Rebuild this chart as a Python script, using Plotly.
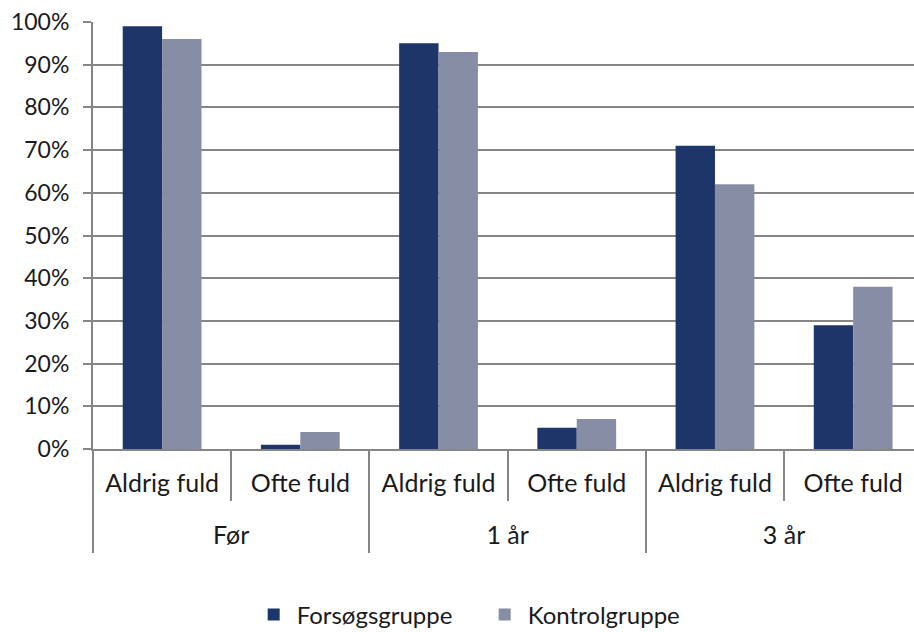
import plotly.graph_objects as go

# data
PERIODS = ["Før", "1 år", "3 år"]
ANSWERS = ["Aldrig fuld", "Ofte fuld"] * 3
FORSOEG = [99, 1, 95, 5, 71, 29]
KONTROL = [96, 4, 93, 7, 62, 38]
Y_TICKS = [0, 10, 20, 30, 40, 50, 60, 70, 80, 90, 100]

DARK = "#1D3568"
LIGHT = "#888DA6"
GRID = "#868686"
FONT = "Lato"

xpos = list(range(len(ANSWERS)))
period_pos = [i * 2 + 0.5 for i in range(len(PERIODS))]

fig = go.Figure()
fig.add_trace(go.Bar(x=xpos, y=FORSOEG, name="Forsøgsgruppe",
                     marker=dict(color=DARK, line=dict(width=0))))
fig.add_trace(go.Bar(x=xpos, y=KONTROL, name="Kontrolgruppe",
                     marker=dict(color=LIGHT, line=dict(width=0))))
# carrier for the outer (period) axis
fig.add_trace(go.Scatter(x=[], y=[], xaxis="x2", showlegend=False, hoverinfo="skip"))

fig.update_layout(
    width=914, height=632,
    barmode="group",
    bargap=0.43,
    bargroupgap=0,
    plot_bgcolor="white",
    paper_bgcolor="white",
    margin=dict(l=93, r=0, t=22, b=183),
    font=dict(family=FONT, size=25, color="#1a1a1a"),
    legend=dict(orientation="h", xref="container", yref="container",
                x=0.527, xanchor="center", y=0.027, yanchor="middle",
                entrywidth=180, itemwidth=36, font=dict(size=24), traceorder="normal"),
    xaxis=dict(
        range=[-0.5, 5.44], automargin=False,
        tickvals=xpos, ticktext=ANSWERS, ticks="", ticklabelstandoff=11,
        tickfont=dict(size=25),
        showline=True, linecolor=GRID, linewidth=2, showgrid=False, zeroline=False,
        minor=dict(tick0=-0.5, dtick=1, ticks="outside", ticklen=50,
                   tickcolor=GRID, tickwidth=1.5, showgrid=False),
    ),
    xaxis2=dict(
        overlaying="x", side="bottom", matches="x", automargin=False,
        tickvals=period_pos, ticktext=PERIODS, ticks="", ticklabelstandoff=69,
        tickfont=dict(size=25),
        showline=False, showgrid=False, zeroline=False,
        minor=dict(tick0=-0.5, dtick=2, ticks="outside", ticklen=103,
                   tickcolor=GRID, tickwidth=1.5, showgrid=False),
    ),
    yaxis=dict(
        range=[0, 100], automargin=False,
        tickvals=Y_TICKS, ticktext=[f"{v}%" for v in Y_TICKS],
        tickfont=dict(size=23),
        showgrid=True, gridcolor=GRID, gridwidth=2,
        showline=True, linecolor=GRID, linewidth=2,
        ticks="outside", ticklen=8, tickcolor=GRID, tickwidth=2,
        ticklabelstandoff=9, zeroline=False,
    ),
)

fig.write_html("out.html", config={"displayModeBar": False},
               post_script="document.body.style.margin='0px';document.body.style.overflow='hidden';")
